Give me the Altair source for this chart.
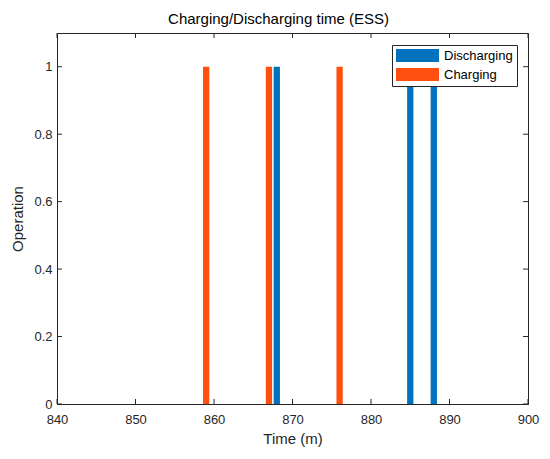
import altair as alt
import pandas as pd

# Data
discharging_times = [868, 885, 888]
discharging_vals = [1, 1, 1]
charging_times = [859, 867, 876]
charging_vals = [1, 1, 1]
x_ticks = [840, 850, 860, 870, 880, 890, 900]
y_ticks = [0, 0.2, 0.4, 0.6, 0.8, 1.0]

BAR_W = 0.8
W, H = 471, 371
FONT = "Liberation Sans"
AX = "#262626"

rows = []
for t, v in zip(discharging_times, discharging_vals):
    rows.append({"t": t, "lo": t - BAR_W / 2, "hi": t + BAR_W / 2, "base": 0, "v": v, "s": "Discharging"})
for t, v in zip(charging_times, charging_vals):
    rows.append({"t": t, "lo": t - BAR_W / 2, "hi": t + BAR_W / 2, "base": 0, "v": v, "s": "Charging"})
bars_df = pd.DataFrame(rows)

xscale = alt.Scale(domain=[840, 900], nice=False, zero=False)
yscale = alt.Scale(domain=[0, 1.1], nice=False)

bars = alt.Chart(bars_df).mark_rect().encode(
    x=alt.X("lo:Q", scale=xscale,
            axis=alt.Axis(title="Time (m)", values=x_ticks, format="d", tickSize=0,
                          labelPadding=9, titlePadding=5, grid=False, labelFlush=False)),
    x2="hi:Q",
    y=alt.Y("base:Q", scale=yscale,
            axis=alt.Axis(title="Operation", values=y_ticks, tickSize=0, labelPadding=5,
                          titlePadding=8, grid=False, labelFlush=False,
                          labelExpr="format(datum.value, '~g')")),
    y2="v:Q",
    color=alt.Color("s:N",
                    scale=alt.Scale(domain=["Discharging", "Charging"], range=["#0072BD", "#FF5010"]),
                    legend=alt.Legend(title=None, orient="none", legendX=335, legendY=12,
                                      symbolType="M-1,-1H5.615V1H-1Z", symbolSize=169,
                                      labelFontSize=13, labelFont=FONT, labelColor="#000000",
                                      padding=4, strokeColor=AX, fillColor="white",
                                      rowPadding=5, labelOffset=35, symbolStrokeWidth=0,
                                      symbolOpacity=1)),
)

xt = pd.DataFrame({"x": x_ticks})
yt = pd.DataFrame({"y": y_ticks})

tick_b = alt.Chart(xt).mark_rule(color=AX, strokeWidth=1).encode(
    x=alt.X("x:Q", scale=xscale), y=alt.value(H), y2=alt.value(H - 5))
tick_t = alt.Chart(xt).mark_rule(color=AX, strokeWidth=1).encode(
    x=alt.X("x:Q", scale=xscale), y=alt.value(0), y2=alt.value(5))
tick_l = alt.Chart(yt).mark_rule(color=AX, strokeWidth=1).encode(
    y=alt.Y("y:Q", scale=yscale), x=alt.value(0), x2=alt.value(5))
tick_r = alt.Chart(yt).mark_rule(color=AX, strokeWidth=1).encode(
    y=alt.Y("y:Q", scale=yscale), x=alt.value(W), x2=alt.value(W - 5))

chart = alt.layer(bars, tick_b, tick_t, tick_l, tick_r).properties(
    width=W, height=H,
    title=alt.Title("Charging/Discharging time (ESS)", fontSize=15, font=FONT,
                    fontWeight="normal", color="#000000", offset=6, dx=-14),
    autosize=alt.AutoSizeParams(type="none"),
    padding={"left": 49, "top": 25, "right": 14, "bottom": 46},
    background="white",
).configure_view(stroke=AX, strokeWidth=1).configure_axis(
    labelFont=FONT, labelFontSize=13, labelColor=AX, titleFont=FONT, titleFontSize=15,
    titleColor=AX, titleFontWeight="normal", domainColor=AX, domain=True,
)

chart.save("out.html", embed_options={"renderer": "svg", "actions": False})
